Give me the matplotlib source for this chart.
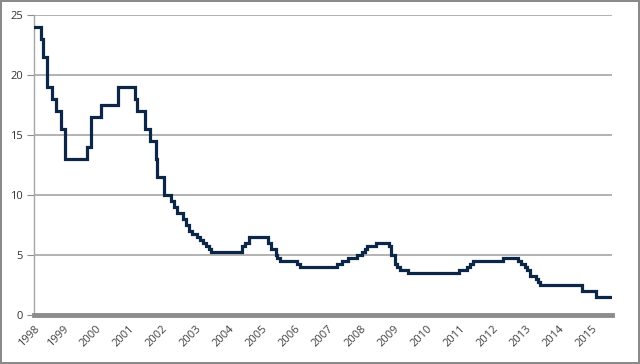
import matplotlib
matplotlib.use("Agg")
import matplotlib.pyplot as plt
import numpy as np

plt.rcParams['font.family'] = ['Open Sans', 'DejaVu Sans']
plt.rcParams['font.size'] = 8

# policy rate (%) and the decimal year at which each level starts
change_years = [
    1998.14, 1998.32, 1998.39, 1998.51, 1998.66, 1998.77, 1998.92, 1999.04,
    1999.72, 1999.84, 2000.13, 2000.65, 2001.17, 2001.22, 2001.47, 2001.62,
    2001.80, 2001.85, 2002.05, 2002.26, 2002.34, 2002.46, 2002.64, 2002.71,
    2002.81, 2002.89, 2003.06, 2003.15, 2003.23, 2003.32, 2003.40, 2003.47,
    2004.42, 2004.52, 2004.62, 2005.20, 2005.28, 2005.43, 2005.48, 2005.56,
    2006.09, 2006.16, 2007.28, 2007.45, 2007.62, 2007.90, 2008.05, 2008.13,
    2008.21, 2008.46, 2008.86, 2008.94, 2009.04, 2009.12, 2009.20, 2009.45,
    2011.00, 2011.23, 2011.33, 2011.41, 2012.32, 2012.79, 2012.88, 2012.98,
    2013.06, 2013.14, 2013.31, 2013.39, 2013.45, 2014.71, 2015.14, 2015.62,
]
rates = [
    24.0, 23.0, 21.5, 19.0, 18.0, 17.0, 15.5, 13.0,
    14.0, 16.5, 17.5, 19.0, 18.0, 17.0, 15.5, 14.5,
    13.0, 11.5, 10.0, 9.5, 9.0, 8.5, 8.0, 7.5,
    7.0, 6.75, 6.5, 6.25, 6.0, 5.75, 5.5, 5.25,
    5.75, 6.0, 6.5, 6.0, 5.5, 5.0, 4.75, 4.5,
    4.25, 4.0, 4.25, 4.5, 4.75, 5.0, 5.25, 5.5,
    5.75, 6.0, 5.75, 5.0, 4.25, 4.0, 3.75, 3.5,
    3.75, 4.0, 4.25, 4.5, 4.75, 4.5, 4.25, 4.0,
    3.75, 3.25, 3.0, 2.75, 2.5, 2.0, 1.5, 1.5,
]
year_labels = [str(y) for y in range(1998, 2016)]

fig = plt.figure(figsize=(6.4, 3.64), dpi=100, edgecolor='#8a8a8a', linewidth=1.5)
ax = fig.add_axes([0.053, 0.1346, 0.903, 0.8242])

ax.plot(change_years, rates, drawstyle='steps-post', color='#0c2648',
        linewidth=2.3, solid_joinstyle='miter', zorder=3)

x0, x1 = change_years[0] - 0.03, change_years[-1]
ax.set_xlim(x0, x1)
ax.set_ylim(0, 25)
ax.set_yticks(np.arange(0, 26, 5))
ax.yaxis.grid(True, color='#a6a6a6', linewidth=1.2)
ax.set_axisbelow(True)

xt = [x0] + list(range(1999, 2016))
ax.set_xticks(xt)
ax.set_xticklabels(year_labels, rotation=45, ha='right', rotation_mode='anchor',
                   color='#404040')
ax.tick_params(axis='x', length=0, pad=6)
ax.tick_params(axis='y', length=5, color='#8c8c8c', colors='#333333', pad=3)

for s in ['top', 'right']:
    ax.spines[s].set_visible(False)
ax.spines['left'].set_color('#a6a6a6')
ax.spines['left'].set_linewidth(1)
ax.spines['bottom'].set_color('#8c8c8c')
ax.spines['bottom'].set_linewidth(3.5)

fig.savefig("out.png", dpi=100, edgecolor=fig.get_edgecolor())
